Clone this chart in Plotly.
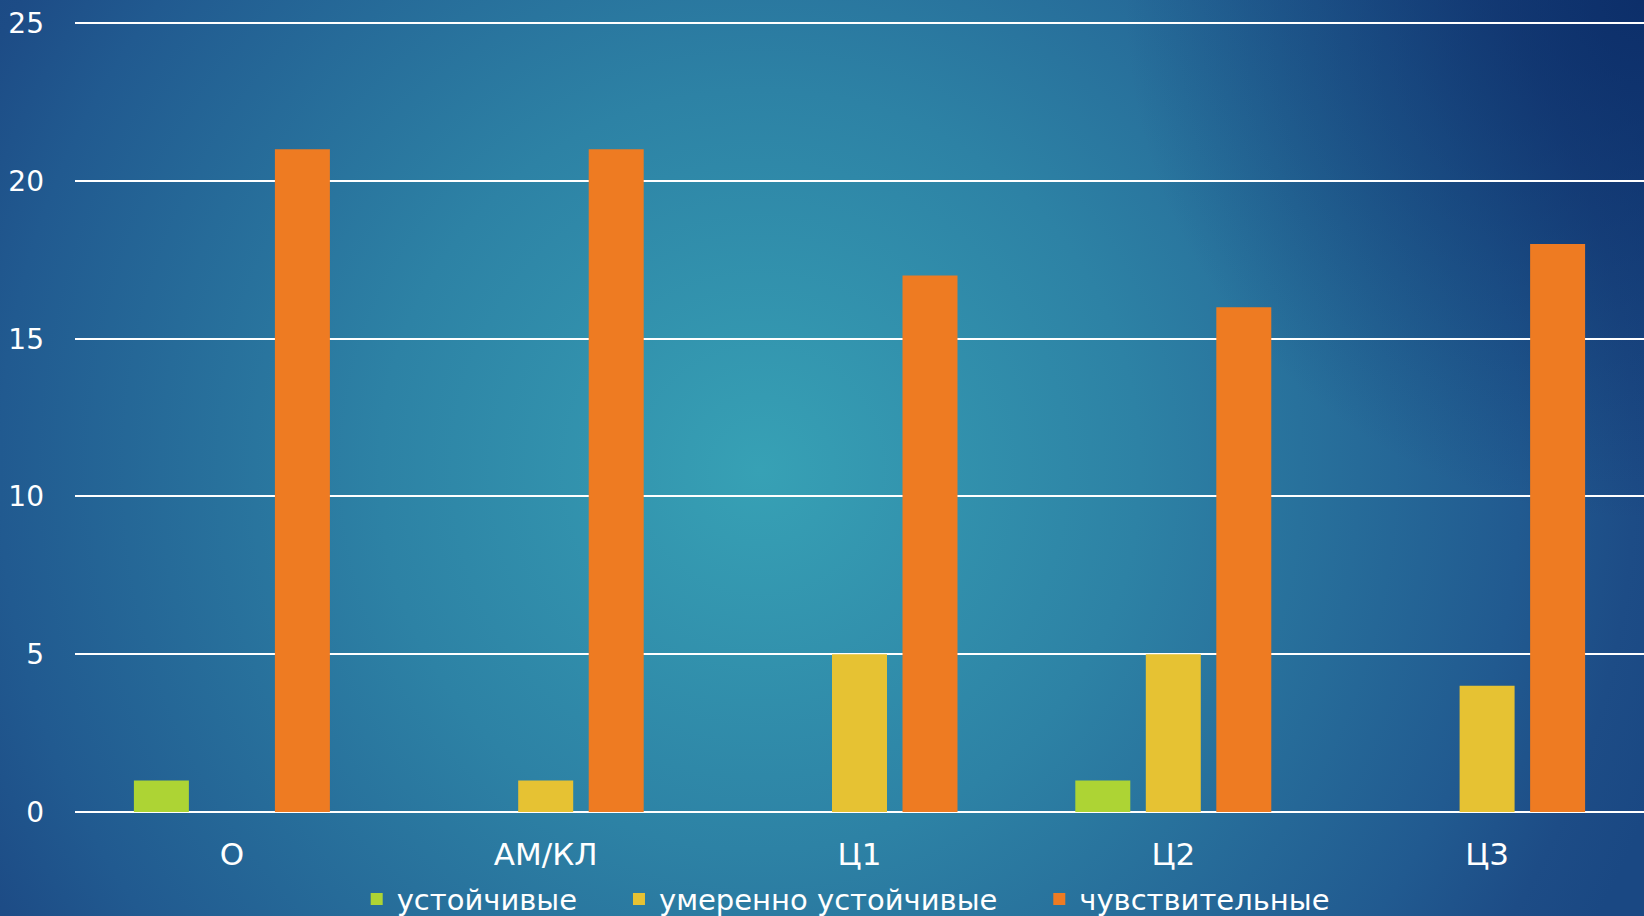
import base64
import plotly.graph_objects as go

categories = ["О", "АМ/КЛ", "Ц1", "Ц2", "Ц3"]
series_names = ["устойчивые", "умеренно устойчивые", "чувствительные"]
resistant = [1, 0, 0, 1, 0]
moderate = [0, 1, 5, 5, 4]
sensitive = [21, 21, 17, 16, 18]
y_ticks = [0, 5, 10, 15, 20, 25]

colors = ["#add434", "#e6c233", "#ee7b22"]

W, H = 1644, 916
L, R, T, B = 75, 0, 20, 104
pw, ph = W - L - R, H - T - B

svg = f'''<svg xmlns="http://www.w3.org/2000/svg" width="{W}" height="{H}" viewBox="0 0 {W} {H}">
<defs>
<radialGradient id="g" gradientUnits="userSpaceOnUse" cx="760" cy="470" r="950">
<stop offset="0" stop-color="#37a1b5"/>
<stop offset="0.4" stop-color="#2d82a5"/>
<stop offset="0.8" stop-color="#215a90"/>
<stop offset="0.92" stop-color="#1d4c86"/>
<stop offset="1" stop-color="#1a4883"/>
</radialGradient>
<radialGradient id="d" gradientUnits="userSpaceOnUse" cx="1644" cy="0" r="520">
<stop offset="0" stop-color="#07245f" stop-opacity="0.7"/>
<stop offset="1" stop-color="#07245f" stop-opacity="0"/>
</radialGradient>
</defs>
<rect width="{W}" height="{H}" fill="url(#g)"/>
<rect width="{W}" height="{H}" fill="url(#d)"/>
</svg>'''
bg_src = "data:image/svg+xml;base64," + base64.b64encode(svg.encode()).decode()

FONT = "DejaVu Sans"
PAD = "\u00a0" * 4

fig = go.Figure()
for name, vals, col in zip(series_names, [resistant, moderate, sensitive], colors):
    fig.add_trace(go.Bar(x=categories, y=vals, name=name + PAD, marker_color=col,
                         marker_line_width=0))

fig.update_layout(
    width=W, height=H,
    margin=dict(l=L, r=R, t=T, b=B, autoexpand=False),
    paper_bgcolor="#1e4d86",
    plot_bgcolor="rgba(0,0,0,0)",
    barmode="group",
    bargap=0.326,
    bargroupgap=0.22,
    font=dict(family=FONT, color="white", size=29),
    showlegend=True,
    legend=dict(orientation="h", x=0.503, xanchor="center", y=-0.11, yanchor="middle",
                font=dict(family=FONT, size=29, color="white"),
                bgcolor="rgba(0,0,0,0)", traceorder="normal"),
    images=[dict(source=bg_src, xref="paper", yref="paper",
                 x=-L / pw, y=1 + T / ph, sizex=W / pw, sizey=H / ph,
                 xanchor="left", yanchor="top", sizing="stretch", layer="below")],
)
fig.update_xaxes(showgrid=False, showline=False, ticks="", zeroline=False,
                 tickfont=dict(family=FONT, size=31, color="white"),
                 ticklabelstandoff=21)
fig.update_yaxes(range=[0, 25.1], tickvals=y_ticks, showgrid=True, gridcolor="white",
                 gridwidth=2, zeroline=True, zerolinecolor="white", zerolinewidth=2,
                 showline=False, ticks="",
                 tickfont=dict(family=FONT, size=28, color="white"),
                 ticklabelstandoff=30)

fig.write_html("out.html", config={"displayModeBar": False},
               post_script="document.body.style.margin='0';document.body.style.overflow='hidden';"
                           "document.documentElement.style.overflow='hidden';")
